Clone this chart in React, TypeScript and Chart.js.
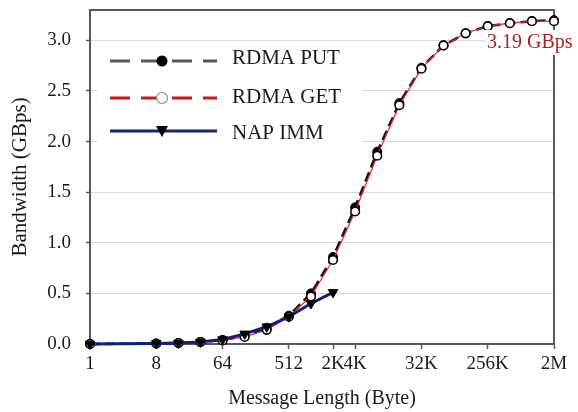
import React, { useEffect, useRef } from "react";
import { Chart, registerables } from "chart.js";

Chart.register(...registerables);

const sizes = [1, 8, 16, 32, 64, 128, 256, 512, 1024, 2048, 4096, 8192, 16384, 32768, 65536, 131072, 262144, 524288, 1048576, 2097152];
const rdmaPut = [0, 0.005, 0.01, 0.02, 0.04, 0.08, 0.16, 0.28, 0.5, 0.86, 1.35, 1.9, 2.38, 2.73, 2.95, 3.07, 3.14, 3.17, 3.19, 3.2];
const rdmaGet = [0, 0.005, 0.01, 0.02, 0.035, 0.07, 0.14, 0.27, 0.47, 0.83, 1.31, 1.86, 2.36, 2.72, 2.95, 3.07, 3.14, 3.17, 3.19, 3.19];
const napImm = [0, 0.005, 0.01, 0.02, 0.045, 0.1, 0.17, 0.27, 0.4, 0.51];

const xTickValues = [1, 8, 64, 512, 2048, 4096, 32768, 262144, 2097152];
const xTickLabels = ["1", "8", "64", "512", "2K", "4K", "32K", "256K", "2M"];
const yTickValues = [0, 0.5, 1, 1.5, 2, 2.5, 3];

const seriesNames = ["RDMA PUT", "RDMA GET", "NAP IMM"];
const annotationText = "3.19 GBps";

const SERIF = "'Liberation Serif', 'Times New Roman', serif";
const AXIS = "#595959";

const legendStyles = [
  { color: "#555555", dash: [20, 11], width: 3, marker: "dot" },
  { color: "#d41515", dash: [20, 11], width: 3, marker: "open" },
  { color: "#0d2a6e", dash: [], width: 3, marker: "tri" },
];

const framePlugin = {
  id: "frame",
  beforeDatasetsDraw(chart: any) {
    const { ctx, chartArea: a } = chart;
    ctx.save();
    ctx.strokeStyle = AXIS;
    ctx.lineWidth = 2;
    ctx.beginPath();
    ctx.moveTo(a.left, a.top);
    ctx.lineTo(a.right, a.top);
    ctx.lineTo(a.right, a.bottom);
    ctx.stroke();
    ctx.restore();
  },
  afterDraw(chart: any) {
    const { ctx, chartArea: a } = chart;
    ctx.save();
    // legend
    ctx.fillStyle = "#ffffff";
    ctx.fillRect(a.left + 7, a.top + 34, 265, 106);
    const rows = [61, 98, 131];
    const bases = [64, 103, 139];
    seriesNames.forEach((name, i) => {
      const s = legendStyles[i];
      const y = rows[i];
      ctx.strokeStyle = s.color;
      ctx.lineWidth = s.width;
      ctx.setLineDash(s.dash);
      ctx.beginPath();
      ctx.moveTo(a.left + 20, y);
      ctx.lineTo(a.left + 127, y);
      ctx.stroke();
      ctx.setLineDash([]);
      const mx = a.left + 72;
      if (s.marker === "dot") {
        ctx.fillStyle = "#000";
        ctx.beginPath();
        ctx.arc(mx, y, 5.5, 0, Math.PI * 2);
        ctx.fill();
      } else if (s.marker === "open") {
        ctx.fillStyle = "#fff";
        ctx.strokeStyle = "#888";
        ctx.lineWidth = 1.2;
        ctx.beginPath();
        ctx.arc(mx, y, 5.5, 0, Math.PI * 2);
        ctx.fill();
        ctx.stroke();
      } else {
        ctx.fillStyle = "#000";
        ctx.beginPath();
        ctx.moveTo(mx - 6, y - 5);
        ctx.lineTo(mx + 6, y - 5);
        ctx.lineTo(mx, y + 6);
        ctx.closePath();
        ctx.fill();
      }
      ctx.fillStyle = "#1a1a1a";
      ctx.font = "21px " + SERIF;
      ctx.textBaseline = "alphabetic";
      ctx.textAlign = "left";
      ctx.fillText(name, a.left + 142, bases[i]);
    });
    // annotation
    ctx.fillStyle = "#ffffff";
    ctx.fillRect(a.right - 69, a.top + 20, 100, 25);
    ctx.fillStyle = "#b01e1e";
    ctx.font = "20px " + SERIF;
    ctx.textBaseline = "alphabetic";
    ctx.textAlign = "left";
    ctx.fillText(annotationText, a.right - 67, a.top + 38);
    ctx.restore();
  },
};

export default function App() {
  const ref = useRef<HTMLCanvasElement | null>(null);
  useEffect(() => {
    if (!ref.current) return;
    const chart = new Chart(ref.current, {
      type: "line",
      data: {
        datasets: [
          {
            label: seriesNames[0],
            data: sizes.map((s, i) => ({ x: s, y: rdmaPut[i] })),
            borderColor: "#151515",
            borderWidth: 2.6,
            borderDash: [10, 5],
            pointStyle: "circle",
            pointRadius: 4.5,
            pointBackgroundColor: "#000",
            pointBorderColor: "#000",
            pointBorderWidth: 1,
            clip: false,
            order: 2,
          },
          {
            label: seriesNames[1],
            data: sizes.map((s, i) => ({ x: s, y: rdmaGet[i] })),
            borderColor: "#e8262a",
            borderWidth: 1.2,
            pointStyle: "circle",
            pointRadius: 4.3,
            pointBackgroundColor: "#fff",
            pointBorderColor: "#000",
            pointBorderWidth: 1.6,
            clip: false,
            order: 1,
          },
          {
            label: seriesNames[2],
            data: napImm.map((v, i) => ({ x: sizes[i], y: v })),
            borderColor: "#0d1f80",
            borderWidth: 3,
            pointStyle: "triangle",
            rotation: 180,
            pointRadius: 5.5,
            pointBackgroundColor: "#000",
            pointBorderColor: "#000",
            pointBorderWidth: 1,
            clip: false,
            order: 0,
          },
        ],
      },
      options: {
        animation: false,
        responsive: true,
        maintainAspectRatio: false,
        events: [],
        layout: { padding: { top: 10, right: 24, left: 0, bottom: 0 } },
        plugins: { legend: { display: false }, tooltip: { enabled: false } },
        scales: {
          x: {
            type: "logarithmic",
            min: 1,
            max: 2097152,
            afterBuildTicks: (scale: any) => {
              scale.ticks = xTickValues.map((v) => ({ value: v }));
            },
            afterFit: (scale: any) => {
              scale.height = 68;
              scale.paddingLeft = 0;
              scale.paddingRight = 0;
            },
            ticks: {
              autoSkip: false,
              maxRotation: 0,
              padding: 4,
              color: "#1a1a1a",
              font: { family: SERIF, size: 19 },
              callback: (v: any) => {
                const i = xTickValues.indexOf(Number(v));
                return i >= 0 ? xTickLabels[i] : "";
              },
            },
            grid: {
              drawOnChartArea: false,
              drawTicks: true,
              tickLength: 5,
              tickColor: AXIS,
              tickWidth: 1.5,
            },
            border: { display: true, color: AXIS, width: 2 },
            title: {
              display: true,
              text: "Message Length (Byte)",
              color: "#1a1a1a",
              font: { family: SERIF, size: 20 },
              padding: { top: 0, bottom: 1 },
            },
          },
          y: {
            type: "linear",
            min: 0,
            max: 3.3,
            afterBuildTicks: (scale: any) => {
              scale.ticks = yTickValues.map((v) => ({ value: v }));
            },
            afterFit: (scale: any) => {
              scale.width = 90;
              scale.paddingTop = 0;
              scale.paddingBottom = 0;
            },
            ticks: {
              padding: 15,
              color: "#1a1a1a",
              font: { family: SERIF, size: 19 },
              callback: (v: any) => Number(v).toFixed(1),
            },
            grid: {
              color: "#d9d9d9",
              lineWidth: 1,
              drawTicks: true,
              tickLength: 4,
              tickColor: AXIS,
              tickWidth: 1.5,
            },
            border: { display: true, color: AXIS, width: 2 },
            title: {
              display: true,
              text: "Bandwidth (GBps)",
              color: "#1a1a1a",
              font: { family: SERIF, size: 21 },
              padding: { top: 8, bottom: 0 },
            },
          },
        },
      },
      plugins: [framePlugin],
    } as any);
    return () => chart.destroy();
  }, []);
  return (
    <div style={{ position: "absolute", left: 0, top: 0, width: 578, height: 412, background: "#fff" }}>
      <canvas ref={ref} />
    </div>
  );
}
